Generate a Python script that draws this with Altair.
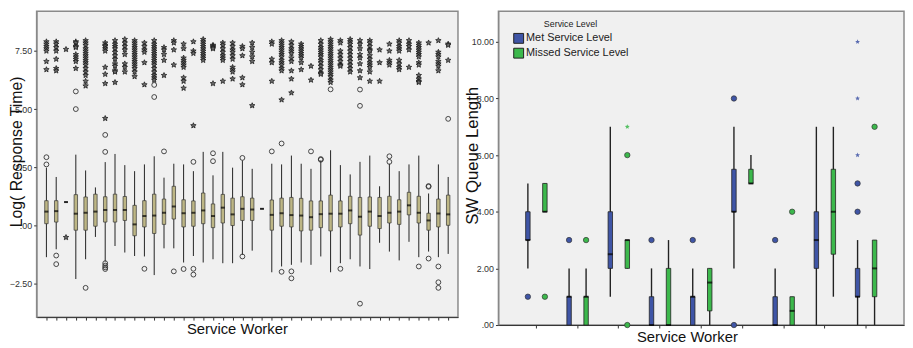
import altair as alt
import pandas as pd

# ---------------- Left panel data: Log(Response Time) by service worker ----------------
workers = [f"W{i+1:02d}" for i in range(42)]
q1_vals = [0.07, 0.14, 1.00, -0.21, -0.21, -0.04, 0.14, 0.14, 0.21, -0.45, -0.07, -0.35, 0.04, 0.27,
           -0.07, -0.04, 0.07, -0.10, 0.10, -0.01, 0.21, 0.21, 0.71, -0.21, -0.04, -0.07, -0.24, -0.21,
           -0.10, -0.24, -0.07, 0.07, -0.42, -0.04, -0.14, 0.10, 0.04, 0.45, 0.10, -0.21, -0.07, 0.00]
median_vals = [0.59, 0.61, 1.00, 0.50, 0.54, 0.59, 0.66, 0.66, 0.66, 0.04, 0.40, 0.42, 0.54, 0.81,
               0.52, 0.54, 0.64, 0.40, 0.76, 0.47, 0.71, 0.68, 0.71, 0.45, 0.52, 0.44, 0.42, 0.35,
               0.48, 0.50, 0.50, 0.64, 0.37, 0.59, 0.40, 0.54, 0.59, 0.86, 0.54, 0.21, 0.51, 0.47]
q3_vals = [1.06, 1.06, 1.00, 1.32, 1.22, 1.34, 1.23, 1.34, 1.24, 0.86, 1.06, 1.34, 1.13, 1.68,
           1.10, 1.05, 1.39, 0.92, 1.33, 1.17, 1.23, 1.17, 0.71, 1.09, 1.17, 1.20, 1.16, 1.05,
           1.05, 1.30, 1.05, 1.25, 1.20, 1.22, 1.20, 1.25, 1.10, 1.42, 1.25, 0.52, 1.13, 1.30]
low_vals = [-1.37, -1.03, 1.00, -2.31, -1.46, -0.50, -1.56, -0.89, -1.17, -1.32, -1.34, -2.14, -0.99, -0.99,
            -1.60, -1.32, -1.60, -1.46, -1.63, -1.63, -1.27, -1.09, 0.71, -2.02, -1.77, -1.70, -1.60, -1.70,
            -1.34, -2.02, -1.63, -1.46, -1.77, -1.88, -0.75, -1.13, -1.51, -0.71, -1.37, -1.13, -1.37, -1.23]
high_vals = [2.48, 2.08, 1.00, 3.04, 2.36, 1.63, 2.72, 3.07, 2.59, 2.33, 2.62, 2.97, 2.05, 2.65,
             2.62, 2.33, 3.16, 2.15, 3.16, 2.48, 2.79, 2.43, 0.71, 2.65, 2.62, 3.00, 2.65, 2.43,
             2.79, 3.23, 2.59, 2.19, 2.73, 3.00, 1.68, 2.65, 2.33, 2.62, 3.00, 1.37, 2.62, 2.08]
outlier_vals = [
    [2.93, 2.62], [-1.30, -1.67], [], [5.76, 5.00], [-2.69], [], [3.89, 3.16, -1.63, -1.73, -1.81, -1.88],
    [], [], [], [-1.87], [6.04, 5.52], [3.18], [-1.98], [-1.88], [2.73, -1.87, -2.12], [], [3.10, 2.76],
    [], [], [2.90, -1.34], [], [], [3.18], [3.52, -2.00], [-1.98, -2.28], [], [3.18], [2.82, 2.85],
    [5.85], [-1.87], [], [5.84, 5.14, -3.37], [], [], [2.97, 2.73], [], [], [-1.77], [1.66, 1.69, -1.43],
    [-1.77, -2.45, -2.69], [4.58]]
extreme_vals = [
    [7.9, 7.8, 7.7, 7.6, 7.5, 7.05, 6.7],
    [7.9, 7.8, 7.65, 7.5, 7.15, 6.75, 6.65],
    [7.57, -0.52],
    [7.9, 7.85, 7.7, 7.65, 7.35, 7.25, 7.15, 7.05, 6.75],
    [7.95, 7.85, 7.75, 7.6, 7.5, 7.4, 7.3, 7.2, 7.1, 7.0, 6.9, 6.75, 6.6, 6.45, 6.2, 6.0],
    [],
    [7.85, 7.75, 7.7, 7.6, 7.5, 6.8, 6.5, 6.1, 4.6],
    [7.95, 7.8, 7.7, 7.6, 7.45, 7.3, 7.15, 6.95, 6.85, 6.65, 6.6, 6.15],
    [8.0, 7.85, 7.7, 7.55, 7.35, 6.95, 6.8, 6.6],
    [7.95, 7.85, 7.75, 7.65, 7.55, 7.45, 7.35, 7.25, 7.15, 7.05, 6.95, 6.85, 6.75, 6.6, 6.4],
    [7.85, 7.7, 7.55, 7.45, 7.0, 6.05],
    [7.95, 7.8, 7.7, 7.6, 7.5, 7.4, 7.3, 7.2, 7.1, 7.0, 6.9, 6.75, 6.6, 6.45, 6.35, 6.25],
    [7.65, 7.55, 7.35, 7.1, 6.45],
    [7.95, 7.85, 7.55, 6.9],
    [7.8, 7.6, 7.2, 7.1, 7.0, 6.9, 6.8, 6.35, 6.2, 5.9],
    [7.9, 7.5, 7.4, 4.29],
    [8.0, 7.9, 7.8, 7.7, 7.6, 7.5, 7.4, 7.3, 7.2, 7.1],
    [7.75, 7.7, 7.65, 7.6, 6.1],
    [7.85, 7.75, 7.6, 7.45, 7.3, 7.2, 7.1, 6.2],
    [7.85, 7.7, 7.55, 7.45, 7.3, 7.15, 6.8, 6.7, 6.6, 6.3],
    [7.7, 7.6, 7.3, 6.35, 6.05],
    [7.85, 7.65, 7.45, 7.25, 7.05, 5.15],
    [],
    [7.9, 7.8, 7.15, 7.0, 6.2],
    [7.95, 7.85, 7.75, 7.65, 7.55, 7.45, 7.35, 7.25, 7.1, 7.0, 6.9, 6.75, 6.65, 5.4],
    [7.9, 7.75, 7.6, 7.5, 7.4, 7.2, 7.05, 6.65, 6.3, 5.7],
    [7.8, 7.7, 7.6, 7.5, 7.4, 7.3, 7.2, 7.0, 6.7],
    [6.85, 6.25],
    [7.95, 7.8, 7.65, 7.55, 7.45, 7.35, 7.25, 7.1, 7.0, 6.85, 6.7, 6.55, 6.5],
    [8.0, 7.9, 7.8, 7.7, 7.6, 7.5, 7.4, 7.3, 7.2, 7.1, 7.0, 6.9, 6.8, 6.7, 6.6, 6.5, 6.4, 6.25, 6.15],
    [7.95, 7.85, 7.5, 7.35, 7.2, 7.05, 6.9, 6.85],
    [8.0, 7.9, 7.8, 7.65, 7.5, 7.35, 7.2, 7.05, 6.9, 6.75, 6.6],
    [7.95, 7.8, 7.6, 7.35, 7.2, 6.95, 6.65, 6.35],
    [7.95, 7.85, 7.7, 7.55, 7.5, 7.3, 7.15, 7.0, 6.9, 6.8, 6.6, 6.2],
    [7.55, 7.0, 6.2],
    [7.8, 7.5, 7.1, 7.0, 6.9],
    [7.95, 7.85, 7.7, 7.6, 7.5, 7.1, 6.95, 6.8, 6.7],
    [7.95, 7.8, 7.7, 7.55, 6.8],
    [7.85, 7.75, 7.65, 7.55, 7.45, 7.35, 7.25, 7.0, 6.9, 6.45, 6.3, 6.2, 6.15],
    [7.85],
    [7.95, 7.45, 7.35, 7.25, 7.05, 6.95, 6.85, 6.65],
    [7.8, 7.75, 7.1]]
left_ticks = [-2.5, 0.0, 2.5, 5.0, 7.5]

# ---------------- Right panel data: SW Queue Length by worker and service level ----------------
sw_cats = [f"SW{i+1}" for i in range(9)]
levels = ["Met Service Level", "Missed Service Level"]
met_q1 = [3, 0, 2, 0, 0, 4, 0, 2, 1]
met_med = [3, 1, 2.5, 0, 1, 4, 0, 3, 1]
met_q3 = [4, 1, 4, 1, 1, 5.5, 1, 4, 2]
met_lo = [2, 0, 1, 0, 0, 2, 0, 0, 0]
met_hi = [5, 2, 7, 2, 2, 7, 2, 7, 3]
met_out = [[1], [3], [], [3], [3], [8, 0], [3], [], [4, 5]]
met_ext = [[], [], [], [], [], [], [], [], [6, 8, 10]]
mis_q1 = [4, 0, 2, 0, 0.5, 5, 0, 2.5, 1]
mis_med = [4, 1, 3, 0, 1.5, 5, 0.5, 4, 2]
mis_q3 = [5, 1, 3, 2, 2, 5.5, 1, 5.5, 3]
mis_lo = [4, 0, 2, 0, 0, 5, 0, 1, 0]
mis_hi = [5, 2, 3, 3, 2, 6, 1, 7, 3]
mis_out = [[1], [3], [6, 0], [], [], [], [4], [], [7]]
mis_ext = [[], [], [7], [], [], [], [], [], []]
right_ticks = [0, 2, 4, 6, 8, 10]

# ---------------- tables ----------------
left_box = pd.DataFrame({"worker": workers, "q1": q1_vals, "med": median_vals, "q3": q3_vals,
                         "lo": low_vals, "hi": high_vals})
left_out = pd.DataFrame([(workers[i], v) for i, vs in enumerate(outlier_vals) for v in vs],
                        columns=["worker", "v"])
left_ext = pd.DataFrame([(workers[i], v) for i, vs in enumerate(extreme_vals) for v in vs],
                        columns=["worker", "v"])

rows = []
for lvl, a, b, c, d, e in [(levels[0], met_q1, met_med, met_q3, met_lo, met_hi),
                           (levels[1], mis_q1, mis_med, mis_q3, mis_lo, mis_hi)]:
    for i, cat in enumerate(sw_cats):
        rows.append({"cat": cat, "level": lvl, "q1": a[i], "med": b[i], "q3": c[i], "lo": d[i], "hi": e[i]})
right_box = pd.DataFrame(rows)
right_out = pd.DataFrame([(sw_cats[i], lvl, v) for lvl, arr in [(levels[0], met_out), (levels[1], mis_out)]
                          for i, vs in enumerate(arr) for v in vs], columns=["cat", "level", "v"])
right_ext = pd.DataFrame([(sw_cats[i], lvl, v) for lvl, arr in [(levels[0], met_ext), (levels[1], mis_ext)]
                          for i, vs in enumerate(arr) for v in vs], columns=["cat", "level", "v"])

FONT = "Liberation Sans"
STAR = ("M0,-1L0.265,-0.364L0.951,-0.309L0.428,0.139L0.588,0.809L0,0.45L-0.588,0.809"
        "L-0.428,0.139L-0.951,-0.309L-0.265,-0.364Z")
BOX_FILL = "#bdb685"
BLUE = "#3f55a6"
GREEN = "#3cb84c"

# ---------------- left chart ----------------
lx_axis = alt.Axis(labels=False, ticks=True, tickSize=3, tickColor="#333", domainColor="#333",
                   title="Service Worker", titleFont=FONT, titleFontSize=15, titleFontWeight="normal",
                   titleColor="#111", titleBaseline="middle", titleY=12, titleX=203, grid=False)
lx_scale = alt.Scale(type="point", padding=2.78)
ly_scale = alt.Scale(domain=[-3.95, 9.21], nice=False, zero=False)
ly_axis = alt.Axis(values=left_ticks, labelExpr="datum.value == 0 ? '.00' : format(datum.value, '.2f')",
                   labelFont=FONT, labelFontSize=9, labelColor="#333", tickSize=3, tickColor="#333",
                   labelPadding=2, domainColor="#888", grid=False,
                   title="Log( Response Time)", titleFont=FONT, titleFontSize=16, titleFontWeight="normal",
                   titleColor="#111", titleBaseline="middle", titleX=-20, titleY=142)


def lx():
    return alt.X("worker:N", sort=workers, scale=lx_scale, axis=lx_axis)


def ly(field):
    return alt.Y(f"{field}:Q", scale=ly_scale, axis=ly_axis)


l_whisk = alt.Chart(left_box).mark_rule(color="#222", strokeWidth=1).encode(x=lx(), y=ly("lo"), y2="hi")
l_box = alt.Chart(left_box).mark_bar(width=3.5, fill=BOX_FILL, stroke="#333", strokeWidth=0.7).encode(
    x=lx(), y=ly("q1"), y2="q3")
l_med = alt.Chart(left_box).mark_tick(color="#000", size=4, thickness=2).encode(x=lx(), y=ly("med"))
l_out = alt.Chart(left_out).mark_point(shape="circle", filled=False, stroke="#333", strokeWidth=0.9,
                                       size=24, opacity=1).encode(x=lx(), y=ly("v"))
l_ext = alt.Chart(left_ext).mark_point(shape=STAR, filled=True, fill="#6a6a6a", stroke="#111",
                                       strokeWidth=0.7, size=34, opacity=1).encode(x=lx(), y=ly("v"))
left = alt.layer(l_whisk, l_box, l_med, l_out, l_ext).properties(width=427, height=310)

# ---------------- right chart ----------------
rx_axis = alt.Axis(labels=False, ticks=True, tickSize=3, tickColor="#333", domainColor="#333",
                   title="Service Worker", titleFont=FONT, titleFontSize=15, titleFontWeight="normal",
                   titleColor="#111", titleBaseline="middle", titleY=12, titleX=191, grid=False)
rx_scale = alt.Scale(type="band", paddingInner=0.175, paddingOuter=0.508)
ry_scale = alt.Scale(domain=[0, 11.08], nice=False, zero=False)
ry_axis = alt.Axis(values=right_ticks, labelExpr="datum.value == 0 ? '.00' : format(datum.value, '.2f')",
                   labelFont=FONT, labelFontSize=9, labelColor="#333", tickSize=3, tickColor="#333",
                   labelPadding=2, domainColor="#888", grid=False,
                   title="SW Queue Length", titleFont=FONT, titleFontSize=17, titleFontWeight="normal",
                   titleColor="#111", titleBaseline="middle", titleX=-26, titleY=146)
off = alt.XOffset("level:N", scale=alt.Scale(domain=levels, paddingInner=0, paddingOuter=0))


def rx():
    return alt.X("cat:N", sort=sw_cats, scale=rx_scale, axis=rx_axis)


def ry(field):
    return alt.Y(f"{field}:Q", scale=ry_scale, axis=ry_axis)


fill_enc = alt.Fill("level:N", scale=alt.Scale(domain=levels, range=[BLUE, GREEN]), legend=None)

r_whisk = alt.Chart(right_box).mark_rule(color="#222", strokeWidth=1.4).encode(
    x=rx(), xOffset=off, y=ry("lo"), y2="hi")
r_box = alt.Chart(right_box).mark_bar(width=4.5, stroke="#222", strokeWidth=0.8).encode(
    x=rx(), xOffset=off, y=ry("q1"), y2="q3",
    color=alt.Color("level:N", scale=alt.Scale(domain=levels, range=[BLUE, GREEN]),
                    legend=alt.Legend(title="Service Level", orient="none", legendX=15, legendY=9,
                                      titleFont=FONT, titleFontSize=9, titleFontWeight="normal",
                                      titleColor="#222", titleAnchor="middle", titlePadding=4,
                                      labelFont=FONT, labelFontSize=11, labelColor="#222",
                                      symbolType="square", symbolSize=100, symbolStrokeColor="#222",
                                      symbolStrokeWidth=1, symbolOpacity=1, labelOffset=2,
                                      rowPadding=0, padding=0)))
r_med = alt.Chart(right_box).mark_tick(color="#000", size=5, thickness=2).encode(
    x=rx(), xOffset=off, y=ry("med"))
r_out = alt.Chart(right_out).mark_point(shape="circle", filled=True, stroke="#333", strokeWidth=0.7,
                                        size=30, opacity=1).encode(x=rx(), xOffset=off, y=ry("v"), fill=fill_enc)
r_ext = alt.Chart(right_ext).mark_point(shape=STAR, filled=True, size=26, opacity=0.85).encode(
    x=rx(), xOffset=off, y=ry("v"), fill=fill_enc)
right = alt.layer(r_whisk, r_box, r_med, r_out, r_ext).properties(width=411, height=318)

chart = alt.hconcat(left, right, spacing=4).resolve_scale(
    color="independent", fill="independent"
).resolve_legend(color="independent", fill="independent").properties(
    padding={"left": 0, "top": 0, "right": 0, "bottom": 0}
).configure_view(fill="#f0f0f0", stroke="#8a8a8a", strokeWidth=1.5)

chart.save("out.html", embed_options={"renderer": "svg", "actions": False})
